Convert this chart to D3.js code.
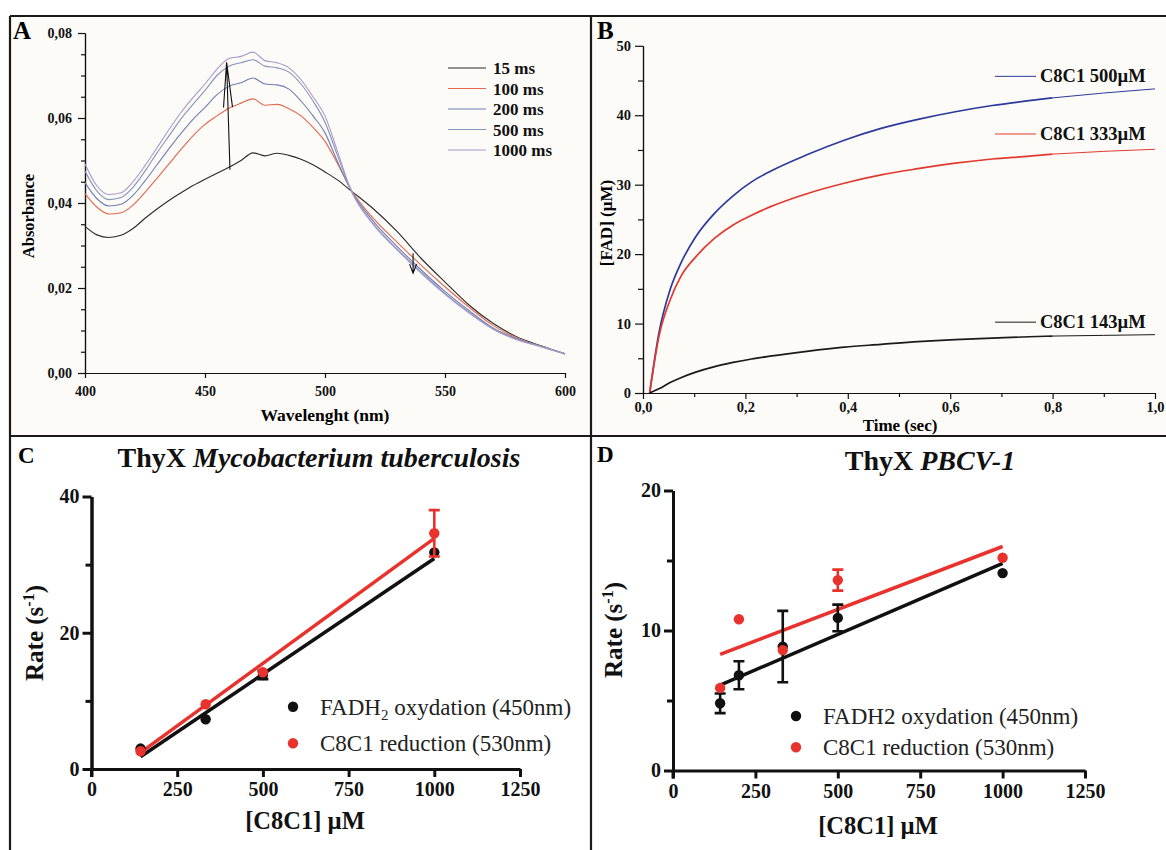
<!DOCTYPE html>
<html><head><meta charset="utf-8">
<script src="https://cdn.jsdelivr.net/npm/d3@7"></script>
<style>
body{margin:0;background:#fff}
svg{display:block}
text{font-family:"Liberation Serif","Times New Roman",serif}
</style>
</head><body>
<svg id="c" width="1166" height="850"></svg>
<script>
// ---------- Panel A: spectra ----------
const wavelengths = [400,405,410,415,420,425,430,435,440,445,450,455,460,465,470,475,480,485,490,495,500,505,511,520,530,540,550,560,570,580,590,600];
const abs15   = [.0345,.0325,.0319,.0324,.0340,.0364,.0386,.0406,.0424,.0441,.0456,.0470,.0484,.0500,.0518,.0511,.0517,.0512,.0503,.0490,.0473,.0455,.0428,.0387,.0333,.0270,.0214,.0160,.0117,.0085,.0064,.0045];
const abs100  = [.0422,.0390,.0374,.0377,.0395,.0425,.0458,.0492,.0526,.0558,.0585,.0605,.0623,.0635,.0645,.0630,.0632,.0622,.0605,.0578,.0545,.0495,.0430,.0365,.0308,.0254,.0203,.0155,.0112,.0082,.0063,.0045];
const abs200  = [.0448,.0410,.0393,.0397,.0418,.0452,.0490,.0528,.0564,.0597,.0625,.0655,.0675,.0683,.0694,.0680,.0678,.0668,.0640,.0605,.0565,.0500,.0428,.0358,.0298,.0243,.0192,.0147,.0106,.0080,.0063,.0045];
const abs500  = [.0475,.0428,.0408,.0413,.0437,.0475,.0518,.0558,.0598,.0632,.0665,.0700,.0722,.0730,.0737,.0722,.0718,.0708,.0680,.0640,.0590,.0515,.0428,.0352,.0292,.0238,.0187,.0143,.0104,.0079,.0062,.0045];
const abs1000 = [.0492,.0440,.0420,.0424,.0450,.0488,.0530,.0573,.0613,.0648,.0680,.0715,.0740,.0745,.0755,.0735,.0730,.0718,.0690,.0650,.0605,.0525,.0428,.0350,.0290,.0235,.0185,.0141,.0103,.0078,.0062,.0045];
const spectraLabels = ["15 ms","100 ms","200 ms","500 ms","1000 ms"];
const aXTicks = [400,450,500,550,600];
const aYTicks = [0,0.02,0.04,0.06,0.08];
const arrowUp = [[460.4,0.0478],[459,0.0731]];
const arrowDown = [[536.7,0.0282],[536.7,0.0235]];

// ---------- Panel B: kinetics ----------
const timeB  = [0.013,0.031,0.053,0.074,0.103,0.140,0.176,0.212,0.248,0.320,0.393,0.465,0.537,0.610,0.682,0.754,0.800,0.900,1.000];
const fad500 = [0,8.6,14.9,18.7,22.5,25.9,28.4,30.4,31.9,34.3,36.4,38.1,39.4,40.5,41.4,42.1,42.5,43.2,43.8];
const fad333 = [0,8.1,13.4,16.8,19.6,22.3,24.2,25.6,26.8,28.7,30.2,31.4,32.3,33.1,33.7,34.1,34.4,34.8,35.1];
const fad143 = [0,0.6,1.5,2.2,3.0,3.8,4.4,4.9,5.3,6.0,6.6,7.0,7.4,7.7,7.9,8.1,8.2,8.3,8.4];
const kineticLabels = ["C8C1 500\u00B5M","C8C1 333\u00B5M","C8C1 143\u00B5M"];
const bXTicks = [0,0.2,0.4,0.6,0.8,1.0];
const bYTicks = [0,10,20,30,40,50];

// ---------- Panel C: M. tuberculosis ----------
const concC = [143,333,500,1000];
const rateCOx  = [3.0,7.3,13.8,31.8];
const errCOx   = [0,0,0.6,0];
const rateCRed = [2.6,9.5,14.2,34.6];
const errCRed  = [0,0,0,3.4];
const fitCOx  = [[143,1.8],[1000,30.9]];
const fitCRed = [[143,2.4],[1000,33.85]];
const cXTicks = [0,250,500,750,1000,1250];
const cYTicks = [0,20,40];

// ---------- Panel D: PBCV-1 ----------
const concD = [143,200,333,500,1000];
const rateDOx  = [4.8,6.8,8.85,10.9,14.1];
const errDOx   = [0.7,1.0,2.55,0.95,0];
const rateDRed = [5.9,10.8,8.6,13.6,15.2];
const errDRed  = [0,0,0,0.75,0];
const fitDOx  = [[143,6.1],[1000,14.8]];
const fitDRed = [[143,8.3],[1000,16.0]];
const dXTicks = [0,250,500,750,1000,1250];
const dYTicks = [0,10,20];
const legendCD = ["oxydation (450nm)","C8C1 reduction (530nm)"];

const svg = d3.select("#c");
const comma = f => d => d3.format(f)(d).replace(".", ",");

// backgrounds & frame
svg.append("rect").attr("x",10).attr("y",16).attr("width",581).attr("height",420).attr("fill","#fcfbf8");
svg.append("rect").attr("x",591).attr("y",16).attr("width",575).attr("height",420).attr("fill","#fcfbf8");
const frame = [[10,16,1166,16],[10,16,10,850],[591,16,591,850],[10,436,1166,436]];
svg.selectAll("line.frame").data(frame).join("line").attr("class","frame")
  .attr("x1",d=>d[0]).attr("y1",d=>d[1]).attr("x2",d=>d[2]).attr("y2",d=>d[3])
  .attr("stroke","#1a1a1a").attr("stroke-width",2.2);

function styleAxis(g, sw, fs){
  g.select(".domain").attr("stroke","#111").attr("stroke-width",sw);
  g.selectAll(".tick line").attr("stroke","#111").attr("stroke-width",sw);
  g.selectAll(".tick text").attr("fill","#111").attr("font-size",fs).attr("font-weight","bold")
    .attr("font-family","'Liberation Serif',serif");
}

// ================= Panel A =================
const xA = d3.scaleLinear().domain([400,600]).range([85,565]);
const yA = d3.scaleLinear().domain([0,0.08]).range([373,33]);
const aMinor = d3.range(0,0.0801,0.005).filter(v=>Math.abs(v/0.02-Math.round(v/0.02))>1e-6);
let g = svg.append("g").attr("transform","translate(0,373)")
  .call(d3.axisBottom(xA).tickValues(aXTicks).tickSize(5).tickSizeOuter(0).tickPadding(8).tickFormat(d3.format("d")));
styleAxis(g,1.2,14);
g = svg.append("g").attr("transform","translate(85,0)")
  .call(d3.axisLeft(yA).tickValues(aYTicks).tickSize(7).tickSizeOuter(0).tickPadding(6).tickFormat(comma(".2f")));
styleAxis(g,1.2,14);
g = svg.append("g").attr("transform","translate(85,0)")
  .call(d3.axisLeft(yA).tickValues(aMinor).tickSize(4).tickSizeOuter(0).tickFormat(""));
styleAxis(g,1.2,14);

const spectra = [abs15,abs100,abs200,abs500,abs1000];
const specColors = ["#2b2b2b","#e2674c","#6f7fb4","#8595b8","#a898cc"];
const lineA = d3.line().x((d,i)=>xA(wavelengths[i])).y(d=>yA(d)).curve(d3.curveMonotoneX);
svg.append("g").selectAll("path").data(spectra).join("path")
  .attr("d",lineA).attr("fill","none").attr("stroke",(d,i)=>specColors[i]).attr("stroke-width",1.1);

// arrows
function arrow(p0,p1,len,half){
  const x0=xA(p0[0]),y0=yA(p0[1]),x1=xA(p1[0]),y1=yA(p1[1]);
  const dx=x1-x0,dy=y1-y0,L=Math.hypot(dx,dy),ux=dx/L,uy=dy/L;
  const bx=x1-ux*len,by=y1-uy*len;
  const w1=[bx-uy*half,by+ux*half],w2=[bx+uy*half,by-ux*half];
  svg.append("path").attr("d",`M${x0},${y0}L${x1},${y1}M${w1[0]},${w1[1]}L${x1},${y1}L${w2[0]},${w2[1]}`)
    .attr("fill","none").attr("stroke","#111").attr("stroke-width",1.1);
}
arrow(arrowUp[0],arrowUp[1],45,4.5);
arrow(arrowDown[0],arrowDown[1],9,3.5);

// legend A
const legA = svg.append("g");
spectraLabels.forEach((s,i)=>{
  const yy = 68 + i*20.5;
  legA.append("line").attr("x1",448).attr("x2",486).attr("y1",yy).attr("y2",yy).attr("stroke",specColors[i]).attr("stroke-width",1.1);
  legA.append("text").attr("x",493).attr("y",yy+6).attr("font-size",17).attr("font-weight","bold").attr("fill","#111").text(s);
});
svg.append("text").attr("x",13).attr("y",39).attr("font-size",25).attr("font-weight","bold").text("A");
svg.append("text").attr("transform","translate(34,216) rotate(-90)").attr("text-anchor","middle")
  .attr("font-size",16.5).attr("font-weight","bold").text("Absorbance");
svg.append("text").attr("x",325).attr("y",421).attr("text-anchor","middle")
  .attr("font-size",17.5).attr("font-weight","bold").text("Wavelenght (nm)");

// ================= Panel B =================
const xB = d3.scaleLinear().domain([0,1]).range([643,1155]);
const yB = d3.scaleLinear().domain([0,50]).range([393,45.8]);
g = svg.append("g").attr("transform","translate(0,393)")
  .call(d3.axisBottom(xB).tickValues(bXTicks).tickSize(6).tickSizeOuter(0).tickPadding(3).tickFormat(comma(".1f")));
styleAxis(g,1.2,14.5);
g = svg.append("g").attr("transform","translate(0,393)")
  .call(d3.axisBottom(xB).tickValues([0.1,0.3,0.5,0.7,0.9]).tickSize(4).tickSizeOuter(0).tickFormat(""));
styleAxis(g,1.2,14.5);
g = svg.append("g").attr("transform","translate(643,0)")
  .call(d3.axisLeft(yB).tickValues(bYTicks).tickSize(8).tickSizeOuter(0).tickPadding(4).tickFormat(d3.format("d")));
styleAxis(g,1.2,14.5);
g = svg.append("g").attr("transform","translate(643,0)")
  .call(d3.axisLeft(yB).tickValues([5,15,25,35,45]).tickSize(5).tickSizeOuter(0).tickFormat(""));
styleAxis(g,1.2,14.5);

const kin = [fad500,fad333,fad143];
const kinColors = ["#2c3a9e","#e03a30","#1a1a1a"];
const lineB = d3.line().x(d=>xB(d[0])).y(d=>yB(d[1])).curve(d3.curveMonotoneX);
kin.forEach((ser,k)=>{
  const pts = timeB.map((t,i)=>[t,ser[i]]);
  svg.append("path").attr("d",lineB(pts.filter(p=>p[0]<=0.8))).attr("fill","none")
    .attr("stroke",kinColors[k]).attr("stroke-width",1.7);
  svg.append("path").attr("d",lineB(pts.filter(p=>p[0]>=0.8))).attr("fill","none")
    .attr("stroke",kinColors[k]).attr("stroke-width",1);
});
const legBY = [45.6,37.3,10.2];
kineticLabels.forEach((s,k)=>{
  const yy = yB(legBY[k]);
  svg.append("line").attr("x1",995).attr("x2",1036).attr("y1",yy).attr("y2",yy).attr("stroke",kinColors[k]).attr("stroke-width",1);
  svg.append("text").attr("x",1040).attr("y",yy+6).attr("font-size",18.5).attr("font-weight","bold").attr("fill","#111").text(s);
});
svg.append("text").attr("x",597).attr("y",39).attr("font-size",25).attr("font-weight","bold").text("B");
svg.append("text").attr("transform","translate(612,223) rotate(-90)").attr("text-anchor","middle")
  .attr("font-size",17).attr("font-weight","bold").text("[FAD] (\u00B5M)");
svg.append("text").attr("x",900).attr("y",431).attr("text-anchor","middle")
  .attr("font-size",17).attr("font-weight","bold").text("Time (sec)");

// ================= Panels C & D =================
function ratePanel(o){
  const x = d3.scaleLinear().domain([0,1250]).range(o.xr);
  const y = d3.scaleLinear().domain(o.yd).range(o.yr);
  let gg = svg.append("g").attr("transform",`translate(0,${o.yr[0]})`)
    .call(d3.axisBottom(x).tickValues(o.xt).tickSize(8).tickSizeOuter(0).tickPadding(5).tickFormat(d3.format("d")));
  styleAxis(gg,3,20);
  gg = svg.append("g").attr("transform",`translate(${o.xr[0]},0)`)
    .call(d3.axisLeft(y).tickValues(o.yt).tickSize(9).tickSizeOuter(0).tickPadding(3).tickFormat(d3.format("d")));
  styleAxis(gg,3,20);
  gg = svg.append("g").attr("transform",`translate(${o.xr[0]},0)`)
    .call(d3.axisLeft(y).tickValues(o.ym).tickSize(6).tickSizeOuter(0).tickFormat(""));
  styleAxis(gg,3,20);
  svg.append("line").attr("x1",o.xr[0]).attr("x2",o.xr[0]).attr("y1",o.yr[0]).attr("y2",o.yr[0]+8).attr("stroke","#111").attr("stroke-width",3);

  const ln = d3.line().x(d=>x(d[0])).y(d=>y(d[1]));
  const sets = [
    {c:o.cOx, v:o.vOx, e:o.eOx, fit:o.fOx, col:"#111"},
    {c:o.cRed,v:o.vRed,e:o.eRed,fit:o.fRed,col:"#e8322d"}
  ];
  sets.forEach(s=>{
    svg.append("path").attr("d",ln(s.fit)).attr("stroke",s.col).attr("stroke-width",3.5).attr("fill","none");
  });
  sets.forEach(s=>{
    const gs = svg.append("g");
    s.c.forEach((c,i)=>{
      if(s.e[i]>0){
        const cx=x(c), y1=y(s.v[i]+s.e[i]), y2=y(s.v[i]-s.e[i]);
        gs.append("path").attr("d",`M${cx},${y1}L${cx},${y2}M${cx-5.5},${y1}L${cx+5.5},${y1}M${cx-5.5},${y2}L${cx+5.5},${y2}`)
          .attr("stroke",s.col).attr("stroke-width",2.6).attr("fill","none");
      }
    });
    gs.selectAll("circle").data(s.c).join("circle").attr("cx",d=>x(d)).attr("cy",(d,i)=>y(s.v[i])).attr("r",5.2).attr("fill",s.col);
  });
  // legend
  svg.append("circle").attr("cx",o.leg[0]).attr("cy",o.leg[1]).attr("r",5.2).attr("fill","#111");
  svg.append("circle").attr("cx",o.leg[0]).attr("cy",o.leg[2]).attr("r",5.2).attr("fill","#e8322d");
  const t1 = svg.append("text").attr("x",o.leg[0]+27).attr("y",o.leg[1]+8).attr("font-size",23).attr("fill","#222");
  if(o.sub){
    t1.append("tspan").text("FADH");
    t1.append("tspan").attr("dy",5).attr("font-size",15).text("2");
    t1.append("tspan").attr("dy",-5).text(" "+legendCD[0]);
  } else {
    t1.text("FADH2 "+legendCD[0]);
  }
  svg.append("text").attr("x",o.leg[0]+27).attr("y",o.leg[2]+8).attr("font-size",23).attr("fill","#222").text(legendCD[1]);
  const tt = svg.append("text").attr("x",o.tx).attr("y",o.ty).attr("text-anchor","middle").attr("font-size",o.tfs).attr("font-weight","bold").attr("fill","#111");
  tt.append("tspan").text("ThyX ");
  tt.append("tspan").attr("font-style","italic").text(o.title);
  svg.append("text").attr("x",o.lx).attr("y",o.ly).attr("font-size",23).attr("font-weight","bold").text(o.letter);
  const ra = svg.append("text").attr("transform",`translate(${o.rx},${o.ry}) rotate(-90)`).attr("text-anchor","middle")
    .attr("font-size",25).attr("font-weight","bold").attr("fill","#111");
  ra.append("tspan").text("Rate (s");
  ra.append("tspan").attr("dy",-9).attr("font-size",16).text("-1");
  ra.append("tspan").attr("dy",9).text(")");
  svg.append("text").attr("x",o.cx).attr("y",o.cy).attr("text-anchor","middle").attr("font-size",24.5).attr("font-weight","bold").attr("fill","#111").text("[C8C1] \u00B5M");
}

ratePanel({xr:[91.5,520],yr:[769,496.5],yd:[0,40],xt:cXTicks,yt:cYTicks,ym:[10,30],
  cOx:concC,vOx:rateCOx,eOx:errCOx,fOx:fitCOx,cRed:concC,vRed:rateCRed,eRed:errCRed,fRed:fitCRed,
  leg:[293,706.7,743.3],sub:true,title:"Mycobacterium tuberculosis",tx:319,ty:467,tfs:28,
  letter:"C",lx:18,ly:463,rx:43,ry:633,cx:305,cy:829});
ratePanel({xr:[673,1085],yr:[770.5,490.5],yd:[0,20],xt:dXTicks,yt:dYTicks,ym:[5,15],
  cOx:concD,vOx:rateDOx,eOx:errDOx,fOx:fitDOx,cRed:concD,vRed:rateDRed,eRed:errDRed,fRed:fitDRed,
  leg:[796,716,747.3],sub:false,title:"PBCV-1",tx:930,ty:470,tfs:28,
  letter:"D",lx:597,ly:462,rx:622,ry:630,cx:878,cy:834});
</script>
</body></html>
